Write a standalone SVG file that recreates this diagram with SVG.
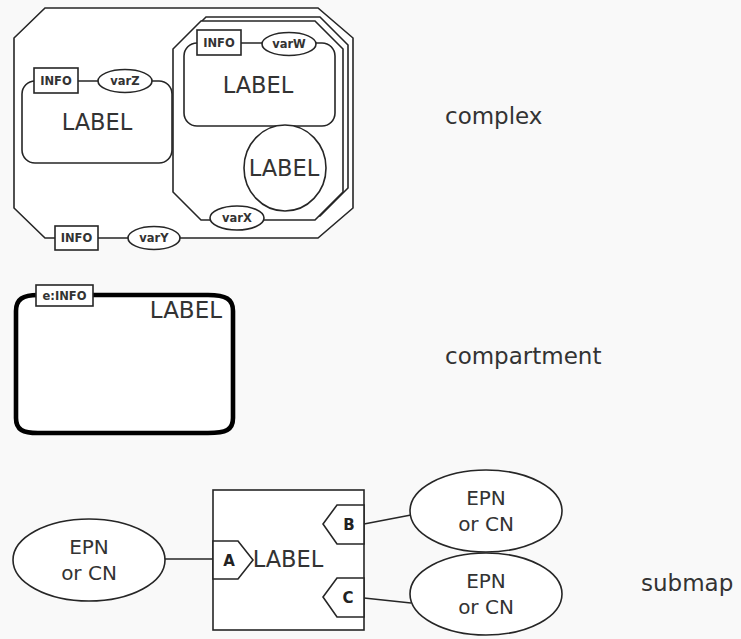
<svg xmlns="http://www.w3.org/2000/svg" width="741" height="639" viewBox="0 0 741 639">
  <style>
    .ln { fill: #ffffff; stroke: #262626; stroke-width: 1.6; }
    .wire { fill: none; stroke: #262626; stroke-width: 1.6; }
    .comp { fill: #ffffff; stroke: #000000; stroke-width: 4.6; }
    .big { font-family: "DejaVu Sans", sans-serif; font-size: 22.5px; fill: #333333; text-anchor: middle; }
    .cap { font-family: "DejaVu Sans", sans-serif; font-size: 23px; fill: #333333; }
    .sm { font-family: "DejaVu Sans", sans-serif; font-size: 11.5px; font-weight: bold; fill: #333333; text-anchor: middle; }
    .tag { font-family: "DejaVu Sans", sans-serif; font-size: 15px; font-weight: bold; fill: #222222; text-anchor: middle; }
    .epn { font-family: "DejaVu Sans", sans-serif; font-size: 20px; fill: #333333; text-anchor: middle; }
  </style>
  <rect width="741" height="639" fill="#f9f9f9"/>

  <!-- outer complex -->
  <g id="complex-outer">
    <polygon class="ln" points="45,8 318,8 353,38 353,208 318,238 45,238 14,208 14,38"/>
  </g>

  <!-- nested complex drawn as multimer: shadow copy behind the front copy -->
  <g id="complex-inner">
    <polygon class="ln" points="201,21 315,21 343,49 343,192 315,220 201,220 173,192 173,49" transform="translate(5,-4)"/>
    <polygon class="ln" points="201,21 315,21 343,49 343,192 315,220 201,220 173,192 173,49"/>
  </g>

  <!-- macromolecule inside outer complex -->
  <g id="macro-left">
    <rect class="ln" x="22" y="81" width="150" height="82" rx="13" ry="13"/>
    <text class="big" x="97" y="130">LABEL</text>
    <rect class="ln" x="34" y="68" width="44" height="25"/>
    <text class="sm" x="56" y="85">INFO</text>
    <ellipse class="ln" cx="125" cy="81" rx="27" ry="11.5"/>
    <text class="sm" x="125" y="85">varZ</text>
  </g>

  <!-- macromolecule inside nested complex -->
  <g id="macro-right">
    <rect class="ln" x="184" y="43" width="151" height="83" rx="13" ry="13"/>
    <text class="big" x="258" y="93">LABEL</text>
    <rect class="ln" x="197" y="30" width="44" height="25"/>
    <text class="sm" x="219" y="47">INFO</text>
    <ellipse class="ln" cx="289" cy="44" rx="27" ry="11.5"/>
    <text class="sm" x="289" y="48">varW</text>
  </g>

  <!-- simple chemical -->
  <g id="chemical">
    <ellipse class="ln" cx="285" cy="168" rx="41" ry="43"/>
    <text class="big" x="284" y="176">LABEL</text>
  </g>

  <!-- state variable of nested complex -->
  <g id="var-x">
    <ellipse class="ln" cx="237" cy="218" rx="27" ry="12"/>
    <text class="sm" x="237" y="222">varX</text>
  </g>

  <!-- units of information on outer complex -->
  <g id="info-outer">
    <rect class="ln" x="55" y="226" width="43" height="24"/>
    <text class="sm" x="76.5" y="242">INFO</text>
  </g>
  <g id="var-y">
    <ellipse class="ln" cx="154" cy="238" rx="26" ry="11.5"/>
    <text class="sm" x="154" y="242">varY</text>
  </g>

  <!-- compartment -->
  <g id="compartment">
    <path class="comp" d="M16,311 C16,299 23,295 38,295 L208,295 C226,295 233,299 233,311 L233,418 C233,430 226,433 208,433 L38,433 C23,433 16,430 16,418 Z"/>
    <text class="cap" x="222" y="318" text-anchor="end" font-size="22.5">LABEL</text>
    <rect class="ln" x="36" y="285" width="57" height="21"/>
    <text class="sm" x="64.5" y="300">e:INFO</text>
  </g>

  <!-- submap -->
  <g id="submap">
    <rect class="ln" x="213" y="490" width="151" height="140"/>
    <text class="big" x="288" y="567" font-size="20">LABEL</text>
    <polygon class="ln" points="213,541 238,541 253,560 238,579 213,579"/>
    <text class="tag" x="229" y="566">A</text>
    <polygon class="ln" points="364,505 337,505 323,524 337,544 364,544"/>
    <text class="tag" x="349" y="530">B</text>
    <polygon class="ln" points="364,578 337,578 323,597 337,617 364,617"/>
    <text class="tag" x="348" y="603">C</text>
  </g>

  <!-- pools attached to the submap tags -->
  <g id="pool-a">
    <ellipse class="ln" cx="89" cy="560" rx="76" ry="41"/>
    <text class="epn" x="89" y="554">EPN</text>
    <text class="epn" x="89" y="580">or CN</text>
  </g>
  <g id="pool-b">
    <ellipse class="ln" cx="486" cy="511" rx="76" ry="41"/>
    <text class="epn" x="486" y="505">EPN</text>
    <text class="epn" x="486" y="531">or CN</text>
  </g>
  <g id="pool-c">
    <ellipse class="ln" cx="486" cy="594" rx="76" ry="41"/>
    <text class="epn" x="486" y="588">EPN</text>
    <text class="epn" x="486" y="614">or CN</text>
  </g>

  <g id="connectors">
    <line class="wire" x1="165" y1="559" x2="213" y2="559"/>
    <line class="wire" x1="364" y1="524" x2="411" y2="515"/>
    <line class="wire" x1="364" y1="598" x2="411" y2="603"/>
  </g>

  <!-- captions -->
  <text class="cap" x="445" y="124">complex</text>
  <text class="cap" x="445" y="364">compartment</text>
  <text class="cap" x="641" y="591">submap</text>
</svg>
